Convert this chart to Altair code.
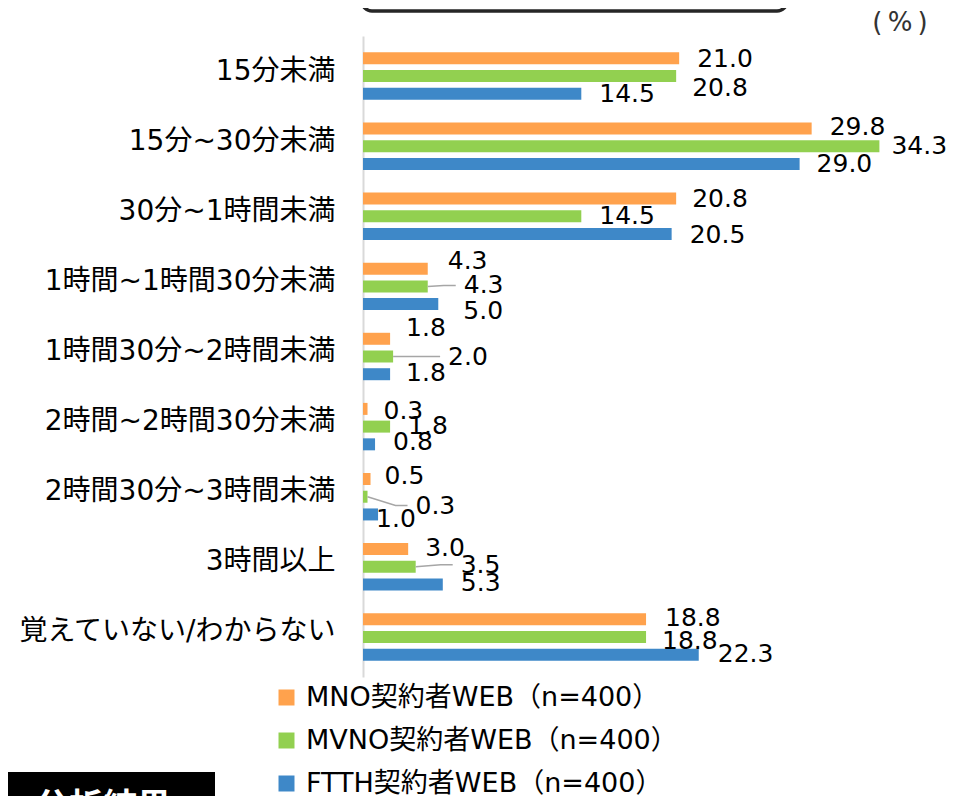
import json
import altair as alt
import pandas as pd

# ---------------- data ----------------
categories = ["15分未満", "15分~30分未満", "30分~1時間未満", "1時間~1時間30分未満",
              "1時間30分~2時間未満", "2時間~2時間30分未満", "2時間30分~3時間未満",
              "3時間以上", "覚えていない/わからない"]
series = ["MNO契約者WEB（n=400）", "MVNO契約者WEB（n=400）", "FTTH契約者WEB（n=400）"]
mno = [21.0, 29.8, 20.8, 4.3, 1.8, 0.3, 0.5, 3.0, 18.8]
mvno = [20.8, 34.3, 14.5, 4.3, 2.0, 1.8, 0.3, 3.5, 18.8]
ftth = [14.5, 29.0, 20.5, 5.0, 1.8, 0.8, 1.0, 5.3, 22.3]

# ---------------- style ----------------
colors = ["#FFA24D", "#92D050", "#3E88C8"]
# label nudges in px: dx from bar end to label's left edge, dy from bar centre
label_dx = [
    [18, 18, 16, 20, 16, 16, 14, 17, 19],
    [16, 12, 18, 36, 55, 18, 48, 45, 16],
    [18, 17, 18, 25, 16, 18, -2, 18, 19],
]
label_dy = [
    [1, -1, 0, -8, -11, 2, -3, -1, -1],
    [12, 0, 0, -1, 0, -1, 9, -2, 4],
    [0, 0, 1, 7, -1, -2, 5, -2, -1],
]
leader = [
    [0] * 9,
    [0, 0, 0, 1, 1, 0, 1, 1, 0],
    [0] * 9,
]
W, H = 542, 641
XMAX = 36
PX = W / XMAX          # px per percent
ROW = H / len(categories)
BAR_GAP = 18           # px between bar centres in a group
FONT_LATIN_CJK = '"DejaVu Sans", "Noto Sans CJK JP"'

rows, lead = [], []
for s, vals in enumerate([mno, mvno, ftth]):
    for r, v in enumerate(vals):
        ypos = r + (s - 1) * BAR_GAP / ROW
        lx = v + label_dx[s][r] / PX
        ly = ypos + label_dy[s][r] / ROW
        rows.append(dict(cat=categories[r], series=series[s], value=v, ypos=ypos,
                         label=f"{v:.1f}", lx=lx, ly=ly))
        if leader[s][r]:
            pid = f"{s}-{r}"
            lead += [
                dict(id=pid, o=0, x=v, y=ypos),
                dict(id=pid, o=1, x=lx - 20 / PX, y=ly),
                dict(id=pid, o=2, x=lx - 8 / PX, y=ly),
            ]
df = pd.DataFrame(rows)
ldf = pd.DataFrame(lead)

xscale = alt.Scale(domain=[0, XMAX], nice=False, zero=True)
yscale = alt.Scale(domain=[-0.5, len(categories) - 0.5], reverse=True, nice=False, zero=False)

label_expr = json.dumps(categories, ensure_ascii=False) + "[datum.value]"

bars = alt.Chart(df).mark_bar(size=12).encode(
    x=alt.X("value:Q", scale=xscale, axis=None),
    x2=alt.datum(0),
    y=alt.Y("ypos:Q", scale=yscale,
            axis=alt.Axis(values=list(range(len(categories))), labelExpr=label_expr,
                          title=None, ticks=False, grid=False, domainColor="#D9D9D9",
                          domainWidth=2, labelFontSize=28, labelFont=FONT_LATIN_CJK,
                          labelColor="#000000", labelPadding=28, labelLimit=420,
                          labelBaseline="middle", labelOffset=-5)),
    color=alt.Color("series:N", scale=alt.Scale(domain=series, range=colors),
                    sort=series,
                    legend=alt.Legend(orient="none", legendX=-90, legendY=648, title=None,
                                      symbolType="square", symbolSize=256,
                                      symbolStrokeWidth=0, labelFontSize=27,
                                      labelFont=FONT_LATIN_CJK, labelColor="#000000",
                                      rowPadding=15, labelOffset=6, labelLimit=500,
                                      direction="vertical")),
)

leaders = alt.Chart(ldf).mark_line(color="#A6A6A6", strokeWidth=1.5).encode(
    x=alt.X("x:Q", scale=xscale),
    y=alt.Y("y:Q", scale=yscale),
    detail="id:N",
    order="o:Q",
)

labels = alt.Chart(df).mark_text(align="left", baseline="middle", fontSize=25,
                                 font="DejaVu Sans", color="#000000").encode(
    x=alt.X("lx:Q", scale=xscale),
    y=alt.Y("ly:Q", scale=yscale),
    text="label:N",
)

one = pd.DataFrame({"a": [0]})
top_box = alt.Chart(one).mark_rect(cornerRadius=10, stroke="#262626", strokeWidth=3.5,
                                   fill="white").encode(
    x=alt.value(-1), x2=alt.value(424), y=alt.value(-80), y2=alt.value(-25))
unit = alt.Chart(one).mark_text(fontSize=26, font="DejaVu Sans", color="#333333",
                                align="center", baseline="middle").encode(
    x=alt.value(537), y=alt.value(-13), text=alt.value("(\u2009%\u2009)"))
black_box = alt.Chart(one).mark_rect(fill="black").encode(
    x=alt.value(-372), x2=alt.value(-148), y=alt.value(736), y2=alt.value(820))
black_text = alt.Chart(one).mark_text(fontSize=34, font="Noto Sans CJK JP", fontWeight="bold",
                                      color="white", align="left", baseline="top").encode(
    x=alt.value(-328), y=alt.value(755), text=alt.value("分析結果"))

chart = alt.layer(bars, leaders, labels, top_box, unit, black_box, black_text).properties(
    width=W, height=H,
    autosize=alt.AutoSizeParams(type="none"),
    padding={"left": 355, "top": 28, "right": 42, "bottom": 119},
).configure_view(strokeWidth=0)

chart.save("out.html", embed_options={"renderer": "svg", "actions": False})
